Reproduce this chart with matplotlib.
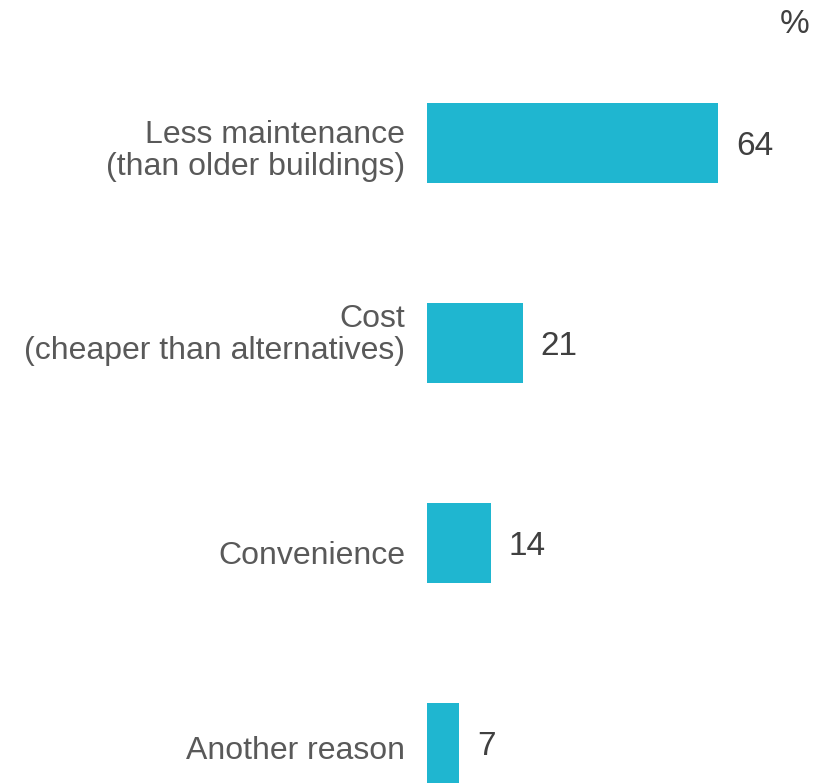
import matplotlib.pyplot as plt
import matplotlib.transforms as mtransforms
import numpy as np

plt.rcParams['font.family'] = ['Liberation Sans', 'DejaVu Sans']

reasons = ['Less maintenance\n(than older buildings)',
           'Cost\n(cheaper than alternatives)',
           'Convenience',
           'Another reason']
shares = [64, 21, 14, 7]

bar_color = '#1fb6d0'
label_color = '#595959'
value_color = '#404040'

# baseline of each label's last line, in px below the bar centre
label_drop = [32, 16, 21, 16]

fig = plt.figure(figsize=(8.31, 7.83), dpi=100)
ax = fig.add_axes([427 / 831, 0, 1 - 427 / 831, 1])


def shifted(dx, dy):
    # data coords nudged by dx right / dy down, in pixels
    return ax.transData + mtransforms.ScaledTranslation(
        dx / fig.dpi, -dy / fig.dpi, fig.dpi_scale_trans)


ypos = np.arange(len(reasons))[::-1]
ax.barh(ypos, shares, height=0.4, color=bar_color)

for y, v in zip(ypos, shares):
    ax.text(v, y, str(v), ha='left', va='baseline', fontsize=24,
            color=value_color, transform=shifted(18, 12))

for y, lab, d in zip(ypos, reasons, label_drop):
    ax.text(0, y, lab, ha='right', va='baseline', multialignment='right',
            fontsize=23, color=label_color, linespacing=1.1,
            transform=shifted(-22, d))

ax.set_xlim(0, (831 - 427) / 4.55)
ax.set_ylim(-0.2, 3.715)
ax.set_xticks([])
ax.set_yticks([])
for s in ax.spines.values():
    s.set_visible(False)

fig.text(795 / 831, 1 - 33 / 783, '%', ha='center', va='baseline',
         fontsize=24, color=value_color)

fig.savefig('out.png', dpi=100)
